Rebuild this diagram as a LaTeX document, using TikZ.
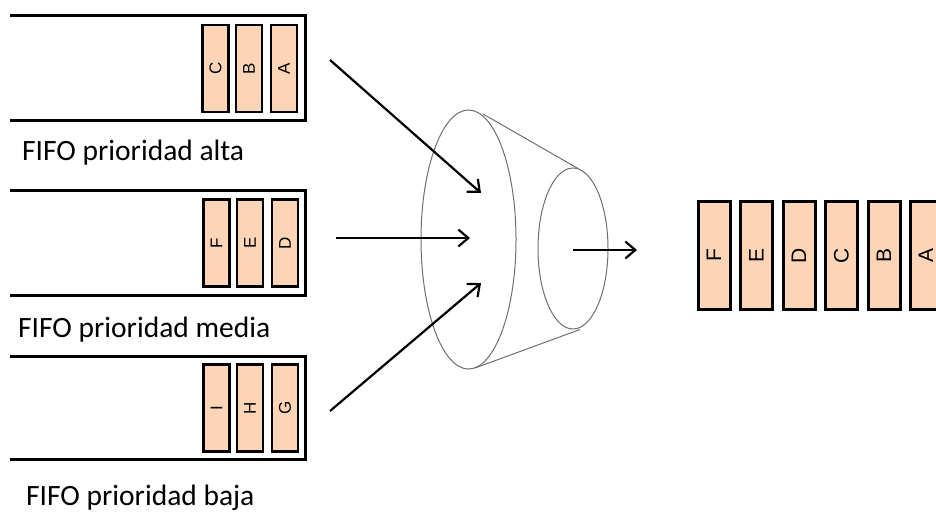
\documentclass[tikz,border=0pt]{standalone}
\usepackage{fontspec}
\setmainfont{Liberation Sans}
\newfontfamily\labelfont{Carlito}
\usetikzlibrary{arrows.meta,shapes.geometric}
\definecolor{cellfill}{RGB}{251,213,181}
\definecolor{conegray}{RGB}{110,110,110}
\tikzset{
  queueline/.style={line width=3pt},
  cell/.style={draw=black, line width=2.8pt, fill=cellfill, inner sep=0pt,
    minimum width=26pt, minimum height=87pt, font=\fontsize{17}{17}\selectfont},
  bigcell/.style={draw=black, line width=3pt, fill=cellfill, inner sep=0pt,
    minimum width=32pt, minimum height=108pt, font=\fontsize{21}{21}\selectfont},
  qlabel/.style={anchor=base west, inner sep=0pt, font=\labelfont\fontsize{29.5}{29.5}\selectfont},
  feed/.style={line width=2.2pt, -{Straight Barb[length=10pt,width=17pt,line width=2.2pt]}},
  conerim/.style={draw=conegray, line width=1pt, ellipse, inner sep=0pt},
  coneside/.style={draw=conegray, line width=1pt}
}
\begin{document}
\begin{tikzpicture}[x=1pt,y=-1pt]
  \useasboundingbox (0,0) rectangle (936,514);
  \clip (0,0) rectangle (936,514);

  % three FIFO queues, open on the left
  \draw[queueline] (10,15.5) -| (305,120.5) -- (10,120.5);
  \draw[queueline] (10,190.5) -| (305,295.5) -- (10,295.5);
  \draw[queueline] (10,356.5) -| (305,459.5) -- (10,459.5);

  % high priority queue
  \node[cell] (qc) at (215.5,68.5) {\rotatebox{90}{C}};
  \node[cell] (qb) at (249,68.5) {\rotatebox{90}{B}};
  \node[cell] (qa) at (284,68.5) {\rotatebox{90}{A}};
  \node[qlabel] (lalta) at (22,160) {FIFO prioridad alta};

  % medium priority queue
  \node[cell] (qf) at (216.5,243) {\rotatebox{90}{F}};
  \node[cell] (qe) at (250,243) {\rotatebox{90}{E}};
  \node[cell] (qd) at (285,243) {\rotatebox{90}{D}};
  \node[qlabel] (lmedia) at (18,337) {FIFO prioridad media};

  % low priority queue
  \node[cell] (qi) at (216.5,408) {\rotatebox{90}{I}};
  \node[cell] (qh) at (250,408) {\rotatebox{90}{H}};
  \node[cell] (qg) at (285,408) {\rotatebox{90}{G}};
  \node[qlabel] (lbaja) at (26,505.5) {FIFO prioridad baja};

  % scheduler funnel
  \node[conerim, minimum width=95pt, minimum height=259pt] (inrim) at (468.5,239.5) {};
  \node[conerim, minimum width=70pt, minimum height=161pt] (outrim) at (573,248.5) {};
  \draw[coneside] (483,114) -- (578,168.5);
  \draw[coneside] (475,368) -- (580,329.5);

  % flows into and out of the funnel
  \coordinate (s1) at (330,60);
  \coordinate (s2) at (336,238);
  \coordinate (s3) at (330,411);
  \coordinate (e1) at (481,193);
  \coordinate (e2) at (470,238);
  \coordinate (e3) at (481,283);
  \coordinate (o1) at (573,250);
  \coordinate (o2) at (637,250);
  \draw[feed] (s1) -- (e1);
  \draw[feed] (s2) -- (e2);
  \draw[feed] (s3) -- (e3);
  \draw[feed] (o1) -- (o2);

  % merged output stream
  \node[bigcell] (rf) at (714,255.5) {\rotatebox{90}{F}};
  \node[bigcell] (re) at (756.5,255.5) {\rotatebox{90}{E}};
  \node[bigcell] (rd) at (799,255.5) {\rotatebox{90}{D}};
  \node[bigcell] (rc) at (841.5,255.5) {\rotatebox{90}{C}};
  \node[bigcell] (rb) at (884,255.5) {\rotatebox{90}{B}};
  \node[bigcell] (ra) at (926,255.5) {\rotatebox{90}{A}};
\end{tikzpicture}
\end{document}
